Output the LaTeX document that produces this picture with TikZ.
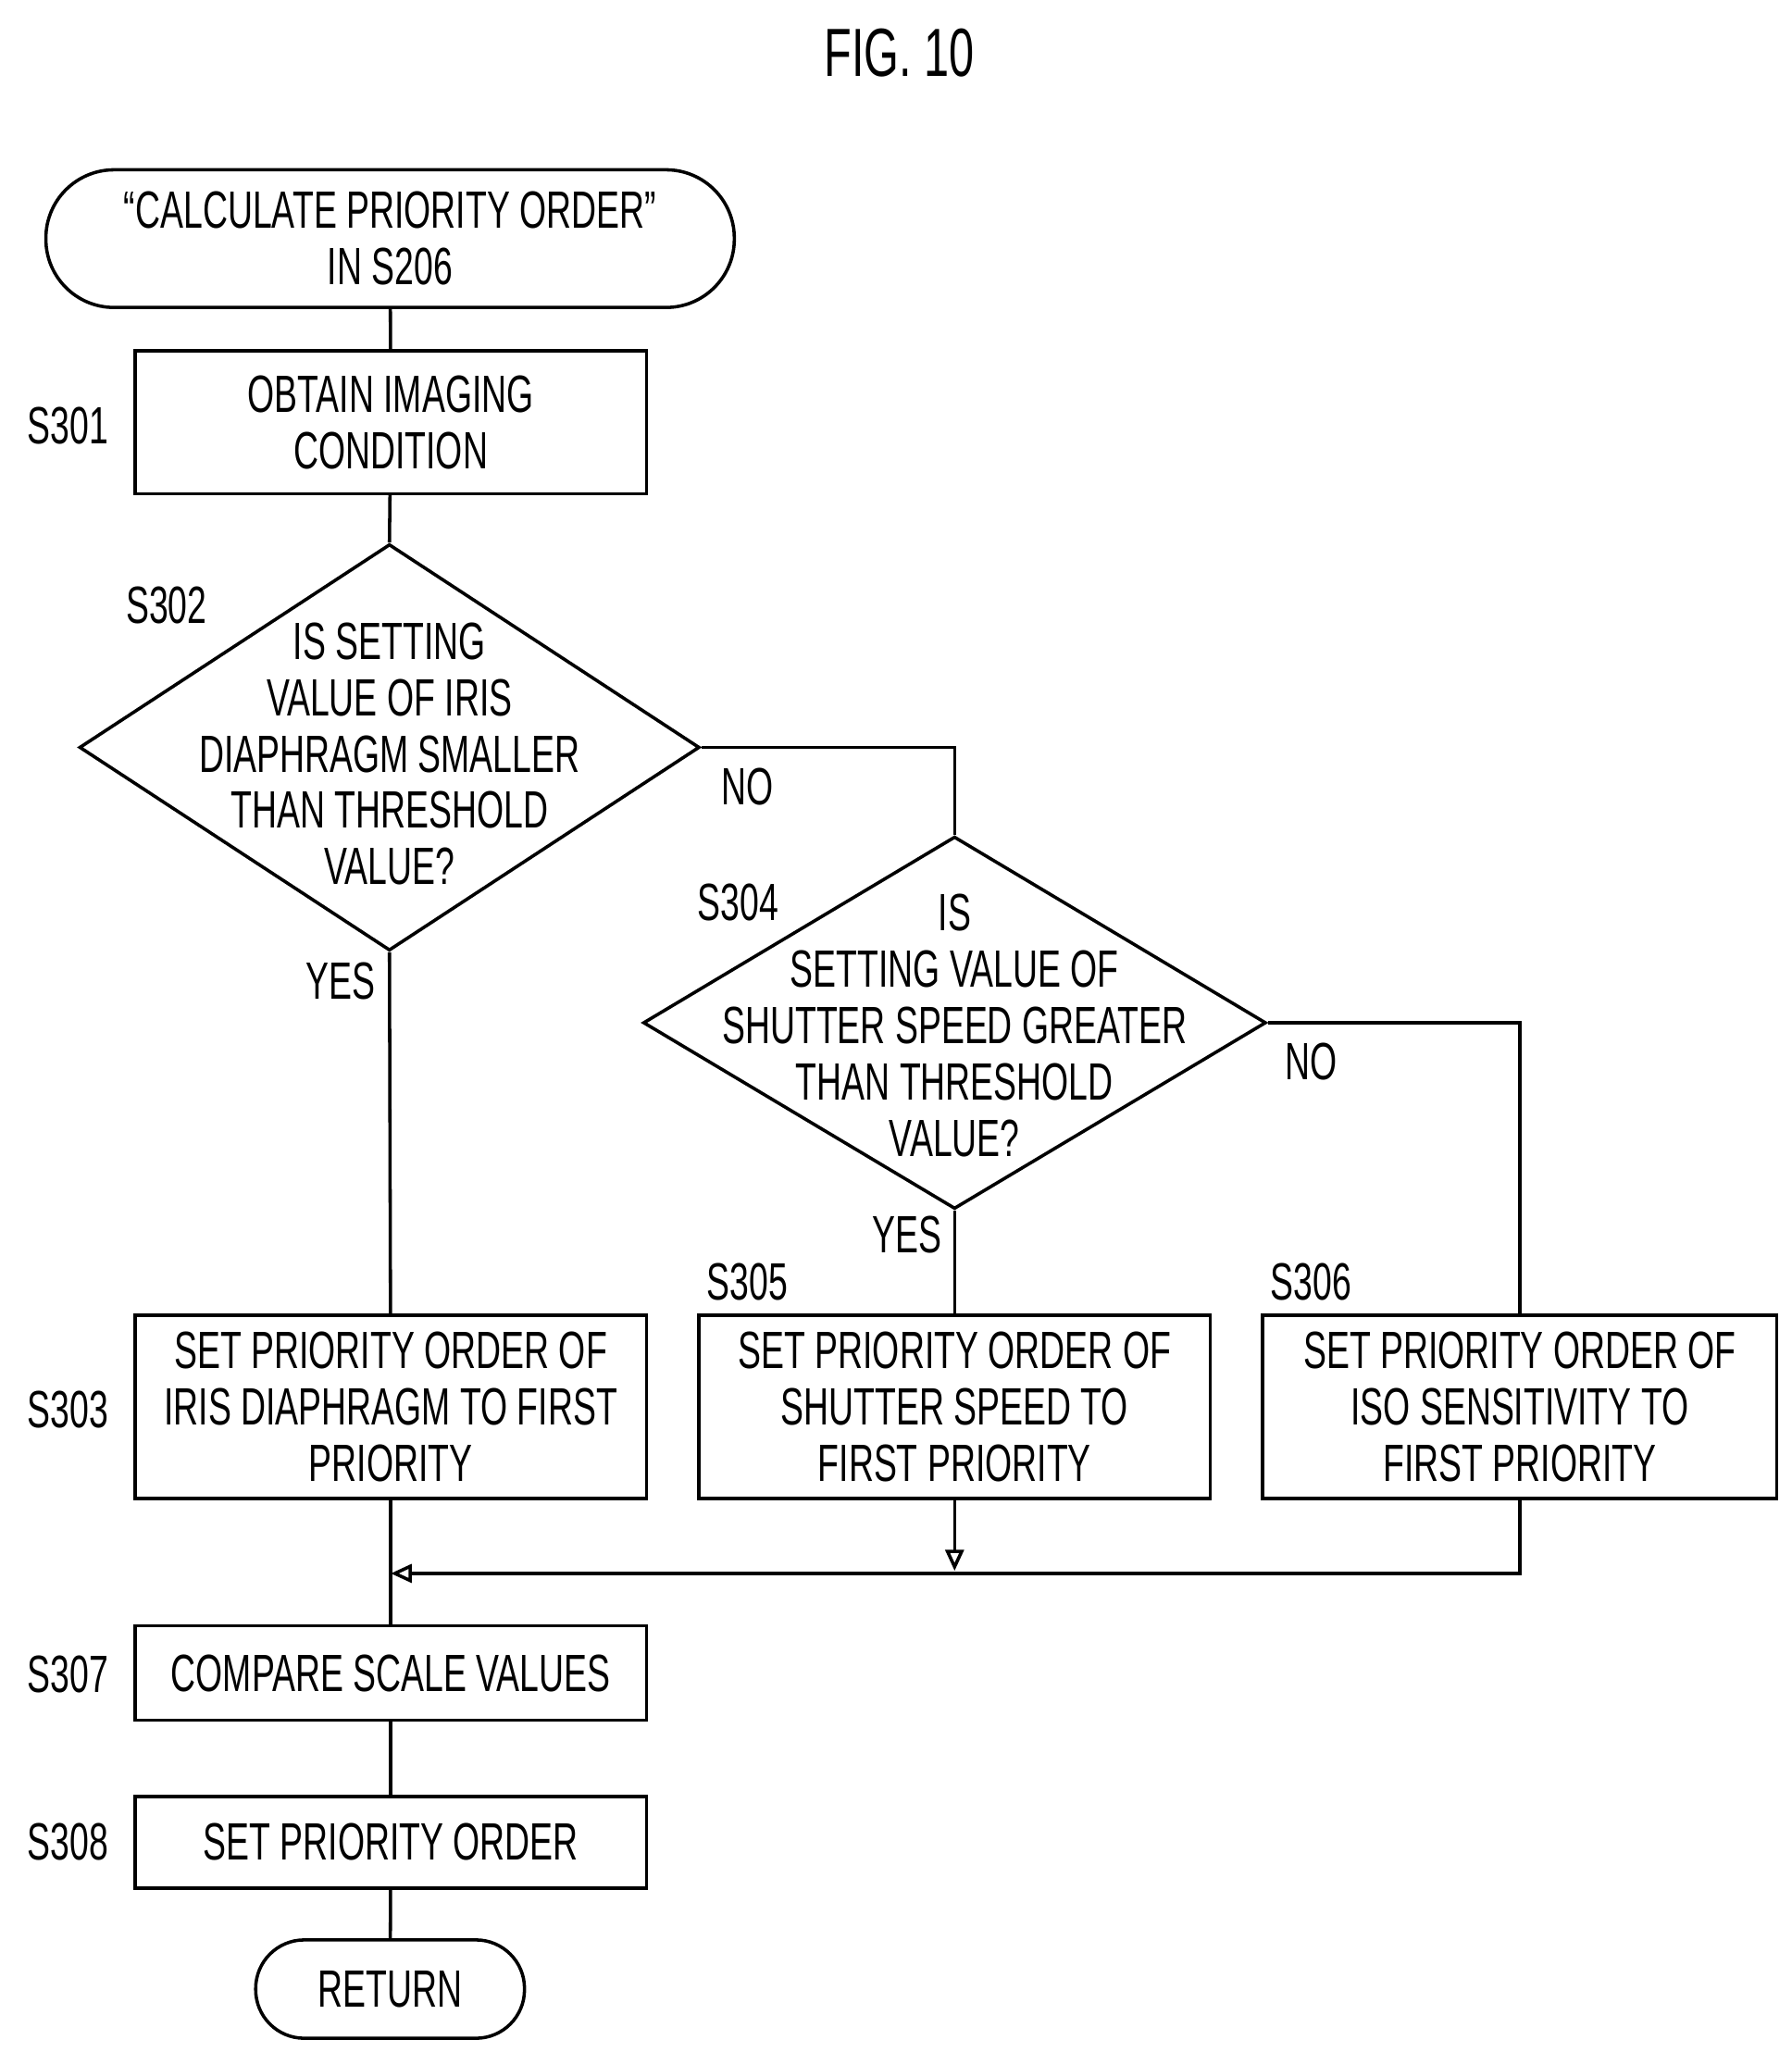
\documentclass[tikz,border=0pt]{standalone}
\usepackage{fontspec}
\setmainfont{Liberation Sans}[FakeStretch=0.66]
\usetikzlibrary{shapes.geometric,arrows.meta}
\begin{document}
\begin{tikzpicture}[x=1pt,y=-1pt,
  every node/.style={font=\fontsize{40}{43}\selectfont, align=center, inner sep=0pt},
  box/.style={draw, line width=2.5pt, rectangle},
  dia/.style={draw, line width=2.5pt, diamond},
  lab/.style={font=\fontsize{40}{43}\selectfont},
  ln/.style={line width=2.5pt},
  ar/.style={line width=2.5pt,-{Triangle[open,length=16pt,width=14pt]}}]
\useasboundingbox (0,0) rectangle (1366,1565);
\node (title) at (686,40) {\fontsize{52}{56}\selectfont FIG. 10};
\node[box, rounded corners=52pt, minimum width=525pt, minimum height=105pt] (start) at (297.5,182) {“CALCULATE PRIORITY ORDER”\\IN S206};
\node[box, minimum width=390pt, minimum height=109pt] (s301) at (298,322) {OBTAIN IMAGING\\CONDITION};
\node[lab] (l301) at (52,325) {S301};
\node[dia, minimum width=473pt, minimum height=310pt] (s302) at (297,570) {};
\node at (297,575) {IS SETTING\\VALUE OF IRIS\\DIAPHRAGM SMALLER\\THAN THRESHOLD\\VALUE?};
\node[lab] (l302) at (127,462) {S302};
\node[dia, minimum width=475pt, minimum height=284pt] (s304) at (728,780) {};
\node at (728,782) {IS\\SETTING VALUE OF\\SHUTTER SPEED GREATER\\THAN THRESHOLD\\VALUE?};
\node[lab] (l304) at (563,688) {S304};
\node[box, minimum width=390pt, minimum height=140pt] (s303) at (298,1073) {SET PRIORITY ORDER OF\\IRIS DIAPHRAGM TO FIRST\\PRIORITY};
\node[lab] (l303) at (52,1075) {S303};
\node[box, minimum width=390pt, minimum height=140pt] (s305) at (728,1073) {SET PRIORITY ORDER OF\\SHUTTER SPEED TO\\FIRST PRIORITY};
\node[lab] (l305) at (570,978) {S305};
\node[box, minimum width=392pt, minimum height=140pt] (s306) at (1159,1073) {SET PRIORITY ORDER OF\\ISO SENSITIVITY TO\\FIRST PRIORITY};
\node[lab] (l306) at (1000,978) {S306};
\node[box, minimum width=390pt, minimum height=72pt] (s307) at (298,1276) {COMPARE SCALE VALUES};
\node[lab] (l307) at (52,1277) {S307};
\node[box, minimum width=390pt, minimum height=70pt] (s308) at (298,1405) {SET PRIORITY ORDER};
\node[lab] (l308) at (52,1405) {S308};
\node[box, rounded corners=37pt, minimum width=205pt, minimum height=75pt] (ret) at (297.5,1517) {RETURN};
\node (no1) at (570,600) {NO};
\node (yes1) at (260,748) {YES};
\node (no2) at (1000,810) {NO};
\node (yes2) at (692,942) {YES};
\coordinate (m) at (298,1200);
\coordinate (m2) at (728,1198);
\draw[ln] (start) -- (s301);
\draw[ln] (s301) -- (s302.north);
\draw[ln] (s302.south) -- (s303);
\draw[ln] (s302.east) -| (s304.north);
\draw[ln] (s304.south) -- (s305);
\draw[ln] (s304.east) -| (s306.north);
\draw[ar] (s305.south) -- (m2);
\draw[ar] (s306.south) |- (m);
\draw[ln] (s303.south) -- (s307.north);
\draw[ln] (s307) -- (s308);
\draw[ln] (s308) -- (ret);
\end{tikzpicture}
\end{document}
